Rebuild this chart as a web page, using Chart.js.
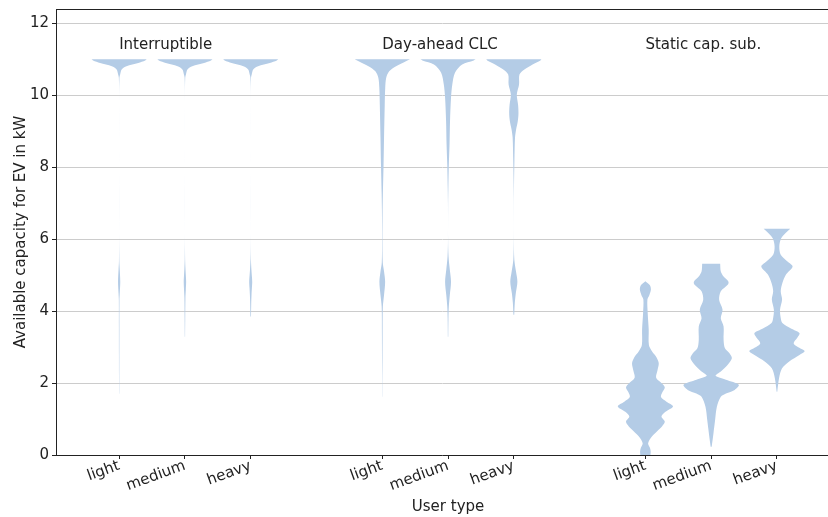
<!DOCTYPE html>
<html>
<head>
<meta charset="utf-8">
<script src="https://cdn.jsdelivr.net/npm/chart.js@4.4.1/dist/chart.umd.min.js"></script>
<style>
  html, body { margin: 0; padding: 0; background: #fff; overflow: hidden; }
  #wrap { width: 828px; height: 517px; }
</style>
</head>
<body>
<div id="wrap"><canvas id="chart" width="828" height="517"></canvas></div>
<script>
// groups and user types on the x axis
const groups = ['Interruptible', 'Day-ahead CLC', 'Static cap. sub.'];
const userTypes = ['light', 'medium', 'heavy'];
const tickPos = [1, 2, 3, 5, 6, 7, 9, 10, 11];
const tickLabels = ['light', 'medium', 'heavy', 'light', 'medium', 'heavy', 'light', 'medium', 'heavy'];

// kernel density: y = kW, d = density (relative, normalised per violin)
const intLightY = [1.70, 2.2, 2.74, 3.5, 4.3, 4.5, 4.82, 5.15, 5.38, 6.0, 8.0, 10.0, 10.49, 10.58, 10.72, 10.81, 10.9, 10.97, 11.0];
const intLightD = [0.1, 0.15, 0.2, 0.25, 0.3, 0.6, 1.1, 0.6, 0.2, 0.02, 0, 0.02, 0.3, 1, 2.5, 7.3, 19, 26, 27.5];
const intMediumY = [3.29, 3.8, 4.37, 4.6, 4.82, 5.0, 5.2, 5.43, 6.0, 8.0, 10.0, 10.49, 10.58, 10.72, 10.81, 10.9, 10.97, 11.0];
const intMediumD = [0.15, 0.3, 0.5, 0.9, 1.2, 0.9, 0.5, 0.2, 0.02, 0, 0.02, 0.3, 1, 2.5, 7.3, 19, 26, 27.5];
const intHeavyY = [3.85, 4.2, 4.45, 4.65, 4.82, 5.0, 5.15, 5.45, 6.0, 8.0, 10.0, 10.49, 10.58, 10.72, 10.81, 10.9, 10.97, 11.0];
const intHeavyD = [0.3, 0.5, 0.8, 1.2, 1.5, 1.1, 0.7, 0.2, 0.02, 0, 0.02, 0.3, 1, 2.5, 7.3, 19, 26, 27.5];

const dayLightY = [1.62, 2.2, 2.64, 3.3, 4.12, 4.45, 4.82, 5.1, 5.35, 6.0, 6.8, 7.24, 8.07, 8.82, 9.74, 10.21, 10.49, 10.67, 10.81, 10.95, 11.0];
const dayLightD = [0.1, 0.15, 0.25, 0.35, 0.6, 1.8, 2.9, 1.8, 0.5, 0.2, 0.35, 0.6, 1.3, 1.8, 2.5, 3.0, 4.0, 7.0, 14, 24, 28];
const dayMediumY = [3.29, 3.8, 4.13, 4.45, 4.82, 5.15, 5.52, 6.0, 7.0, 7.4, 8.07, 8.63, 9.28, 9.93, 10.3, 10.63, 10.86, 10.97, 11.0];
const dayMediumD = [0.2, 0.4, 0.8, 1.8, 3.0, 1.8, 0.5, 0.05, 0.1, 0.3, 0.8, 1.5, 2.0, 3.0, 4.3, 7, 14.3, 26, 28];
const dayHeavyY = [3.9, 4.23, 4.5, 4.82, 5.1, 5.43, 6.0, 7.0, 7.52, 8.2, 8.82, 9.05, 9.28, 9.5, 9.74, 10.02, 10.3, 10.58, 10.72, 10.86, 10.97, 11.0];
const dayHeavyD = [0.4, 1.0, 2.0, 3.6, 2.2, 0.5, 0.05, 0.05, 0.2, 0.6, 1.2, 2.3, 4.0, 4.7, 4.3, 3.0, 5.3, 5.7, 10.7, 19, 27, 28];

const statLightY = [0.0, 0.1, 0.2, 0.33, 0.52, 0.66, 0.8, 0.93, 1.07, 1.2, 1.35, 1.48, 1.61, 1.75, 1.88, 2.0, 2.15, 2.35, 2.55, 2.72, 2.88, 3.06, 3.48, 3.94, 4.32, 4.45, 4.6, 4.72, 4.83];
const statLightD = [5, 5.3, 4.5, 2.7, 6.7, 11.7, 16.7, 19.3, 16, 20, 27.5, 21, 15.5, 17, 19.3, 16, 10.7, 12, 13.3, 11, 6.7, 3.5, 3.3, 2.3, 2, 4, 5.5, 4.5, 0];
const statMediumY = [0.23, 0.60, 0.97, 1.34, 1.62, 1.71, 1.81, 1.95, 2.09, 2.2, 2.32, 2.51, 2.69, 2.83, 2.97, 3.2, 3.57, 3.8, 4.04, 4.31, 4.55, 4.73, 4.82, 4.96, 5.1, 5.32];
const statMediumD = [0.5, 2.2, 3.8, 5.5, 9.3, 14.3, 22.7, 26.7, 14.3, 4.3, 9.3, 16, 20, 17.7, 13.3, 12, 12, 9.3, 11, 7.7, 9.3, 16, 16.7, 12, 9.3, 8.7];
const statHeavyY = [1.76, 2.13, 2.41, 2.6, 2.78, 2.89, 3.01, 3.11, 3.25, 3.39, 3.52, 3.67, 3.81, 4.04, 4.32, 4.55, 4.78, 5.01, 5.24, 5.38, 5.57, 5.8, 6.03, 6.22, 6.29];
const statHeavyD = [0.3, 2, 5, 12, 22, 27, 20, 16.3, 19.7, 22, 13.7, 5.3, 3.7, 3, 5, 3.7, 5.3, 8.7, 15.3, 10.3, 3.7, 2.3, 4.3, 10.3, 13];

const violinY = [intLightY, intMediumY, intHeavyY, dayLightY, dayMediumY, dayHeavyY, statLightY, statMediumY, statHeavyY];
const violinD = [intLightD, intMediumD, intHeavyD, dayLightD, dayMediumD, dayHeavyD, statLightD, statMediumD, statHeavyD];

const VIOLIN_COLOR = 'rgb(180, 204, 230)';
const HALF_WIDTH = 0.42;   // half of the violin width, in x units
const TEXT = '#222222';
const FONT = "15px 'DejaVu Sans', sans-serif";
Chart.defaults.font.family = "'DejaVu Sans', sans-serif";
Chart.defaults.font.size = 15;
Chart.defaults.color = TEXT;

// closed outline of one violin: right edge upwards, left edge downwards
function outline(pos, ys, ds) {
  const dmax = Math.max(...ds);
  const pts = [];
  const n = ys.length;
  for (let i = 0; i < n; i++) {
    const p = { x: pos + ds[i] / dmax * HALF_WIDTH, y: ys[i] };
    pts.push(p);
    if (i === 0 || i === n - 1) pts.push({ ...p });
  }
  for (let i = n - 1; i >= 0; i--) {
    const p = { x: pos - ds[i] / dmax * HALF_WIDTH, y: ys[i] };
    pts.push(p);
    if (i === 0 || i === n - 1) pts.push({ ...p });
  }
  return pts;
}

const datasets = violinY.map((ys, i) => ({
  data: outline(tickPos[i], ys, violinD[i]),
  showLine: true,
  fill: 'shape',
  backgroundColor: VIOLIN_COLOR,
  borderColor: 'rgba(0,0,0,0)',
  borderWidth: 0,
  pointRadius: 0,
  pointHoverRadius: 0,
  tension: 0.3,
}));

// top spine + x axis title (centred under the middle tick)
const frame = {
  id: 'frame',
  afterDraw(chart) {
    const { ctx, chartArea: a, scales } = chart;
    ctx.save();
    ctx.strokeStyle = TEXT;
    ctx.lineWidth = 1;
    ctx.beginPath();
    ctx.moveTo(a.left, a.top + 0.5);
    ctx.lineTo(a.right, a.top + 0.5);
    ctx.stroke();
    ctx.fillStyle = TEXT;
    ctx.font = FONT;
    ctx.textAlign = 'center';
    ctx.textBaseline = 'middle';
    const mid = (tickPos[0] + tickPos[tickPos.length - 1]) / 2;
    ctx.fillText('User type', scales.x.getPixelForValue(mid), scales.x.bottom - 10);
    ctx.restore();
  },
};

// group names above each block of violins
const groupTitles = {
  id: 'groupTitles',
  afterDatasetsDraw(chart) {
    const { ctx, scales } = chart;
    ctx.save();
    ctx.fillStyle = TEXT;
    ctx.font = FONT;
    ctx.textAlign = 'left';
    ctx.textBaseline = 'middle';
    groups.forEach((g, gi) => {
      ctx.fillText(g, scales.x.getPixelForValue(tickPos[gi * userTypes.length]), scales.y.getPixelForValue(11.4));
    });
    ctx.restore();
  },
};

new Chart(document.getElementById('chart').getContext('2d'), {
  type: 'scatter',
  data: { datasets },
  options: {
    responsive: false,
    animation: false,
    layout: { padding: { top: 9, left: 0, right: 0, bottom: 0 } },
    plugins: { legend: { display: false }, tooltip: { enabled: false } },
    scales: {
      x: {
        type: 'linear',
        min: 0.04,
        max: 11.776,
        afterBuildTicks: (s) => { s.ticks = tickPos.map((v) => ({ value: v })); },
        afterFit: (s) => { s.height = 62; s.paddingLeft = 0; s.paddingRight = 0; },
        ticks: {
          autoSkip: false,
          minRotation: 20,
          maxRotation: 20,
          padding: -2,
          color: TEXT,
          callback: (v) => tickLabels[tickPos.indexOf(v)],
        },
        grid: { drawOnChartArea: false, tickLength: 4, tickColor: TEXT },
        border: { color: TEXT, width: 1 },
      },
      y: {
        min: 0,
        max: 12.4,
        afterFit: (s) => { s.width = 56; s.paddingTop = 0; s.paddingBottom = 0; },
        ticks: { stepSize: 2, includeBounds: false, padding: 3, color: TEXT },
        grid: { color: '#cccccc', tickColor: TEXT, tickLength: 4 },
        border: { color: TEXT, width: 1 },
        title: { display: true, text: 'Available capacity for EV in kW', color: TEXT, padding: { top: 12 } },
      },
    },
  },
  plugins: [frame, groupTitles],
});
</script>
</body>
</html>
